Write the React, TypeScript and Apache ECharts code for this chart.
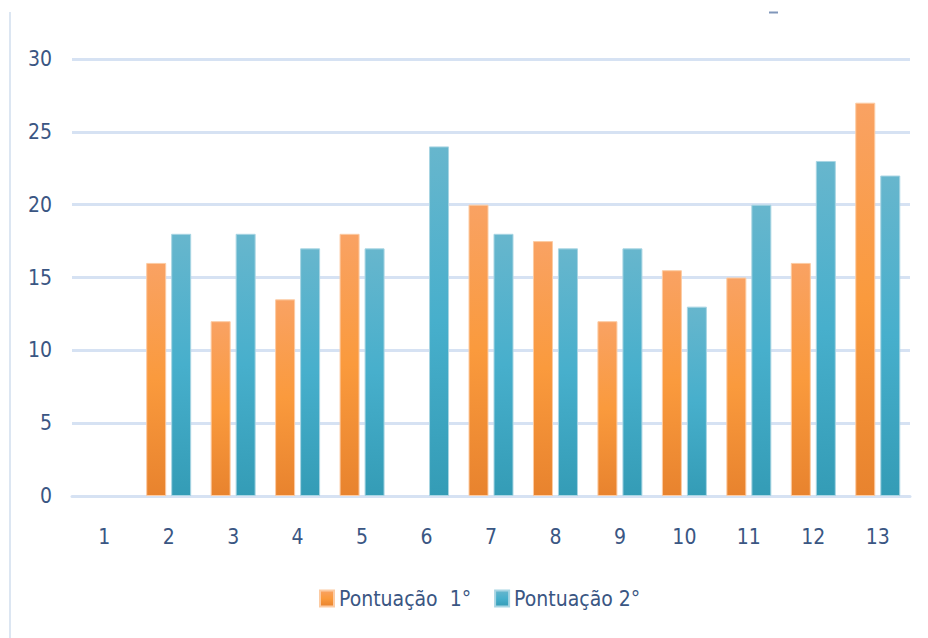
import React, { useEffect, useRef } from "react";
import * as echarts from "echarts";

const categories = ["1", "2", "3", "4", "5", "6", "7", "8", "9", "10", "11", "12", "13"];
const seriesNames = ["Pontuação  1°", "Pontuação 2°"];
const pontuacao1: (number | null)[] = [null, 16, 12, 13.5, 18, null, 20, 17.5, 12, 15.5, 15, 16, 27];
const pontuacao2: (number | null)[] = [null, 18, 18, 17, 17, 24, 18, 17, 17, 13, 20, 23, 22];
const yMin = 0;
const yMax = 30;
const yStep = 5;

const FONT = "'DejaVu Sans Condensed', sans-serif";
const TEXT = "#3A5683";
const GRID = "#D6E2F3";

const grad = (top: string, mid: string, bottom: string) =>
  new echarts.graphic.LinearGradient(0, 0, 0, 1, [
    { offset: 0, color: top },
    { offset: 0.5, color: mid },
    { offset: 1, color: bottom },
  ]);

export default function App() {
  const ref = useRef<HTMLDivElement>(null);
  useEffect(() => {
    if (!ref.current) return;
    const chart = echarts.init(ref.current, undefined, { renderer: "svg" });
    chart.setOption({
      animation: false,
      backgroundColor: "#ffffff",
      grid: { left: 72, right: 18, top: 59, bottom: 142, containLabel: false },
      legend: {
        bottom: 24,
        left: 314,
        itemWidth: 14,
        itemHeight: 16,
        itemGap: 23,
        icon: "rect",
        textStyle: { fontFamily: FONT, fontSize: 21, color: TEXT },
        data: seriesNames,
      },
      graphic: [
        {
          type: "line",
          shape: { x1: 10, y1: 12, x2: 10, y2: 638 },
          style: { stroke: "#DCE6F2", lineWidth: 2 },
          silent: true,
        },
        {
          type: "line",
          shape: { x1: 769, y1: 12.5, x2: 778, y2: 12.5 },
          style: { stroke: "#8097BA", lineWidth: 2 },
          silent: true,
        },
      ],
      xAxis: {
        type: "category",
        data: categories,
        axisLine: { show: true, lineStyle: { color: GRID, width: 3 } },
        axisTick: { show: false },
        axisLabel: { fontFamily: FONT, fontSize: 21, color: TEXT, margin: 30 },
      },
      yAxis: {
        type: "value",
        min: yMin,
        max: yMax,
        interval: yStep,
        axisLine: { show: false },
        axisTick: { show: false },
        axisLabel: { fontFamily: FONT, fontSize: 21, color: TEXT, margin: 20 },
        splitLine: { lineStyle: { color: GRID, width: 3 } },
      },
      series: [
        {
          name: seriesNames[0],
          type: "bar",
          data: pontuacao1,
          barWidth: 20,
          barGap: "25%",
          itemStyle: {
            color: grad("#F9A263", "#FA9A3D", "#E8832E"),
            borderColor: "#FCCBA3",
            borderWidth: 1,
          },
        },
        {
          name: seriesNames[1],
          type: "bar",
          data: pontuacao2,
          barWidth: 20,
          barGap: "25%",
          itemStyle: {
            color: grad("#67B6CD", "#47AFCC", "#349CB6"),
            borderColor: "#A8D5E3",
            borderWidth: 1,
          },
        },
      ],
    });
    return () => chart.dispose();
  }, []);
  return <div ref={ref} style={{ width: 928, height: 638, position: "absolute", left: 0, top: 0 }} />;
}
